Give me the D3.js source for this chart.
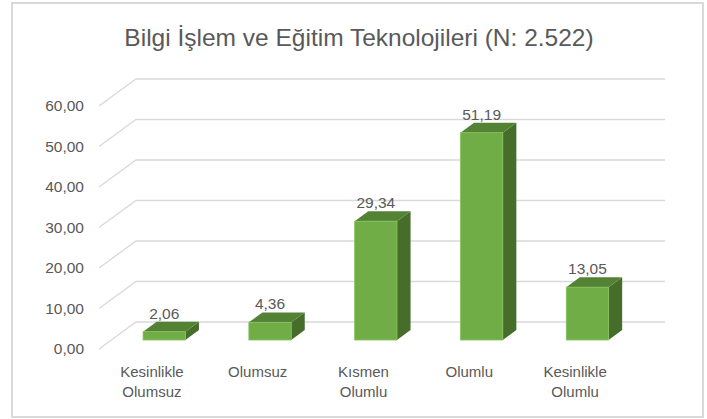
<!DOCTYPE html>
<html>
<head>
<meta charset="utf-8">
<script src="https://cdn.jsdelivr.net/npm/d3@7"></script>
<style>
  body { margin: 0; background: #fff; }
  text { font-family: "Liberation Sans", Arial, sans-serif; fill: #595959; }
</style>
</head>
<body>
<div id="chart"></div>
<script>
// Plot constants
const WIDTH = 707;
const HEIGHT = 419;

// Data
const categories = [["Kesinlikle", "Olumsuz"], ["Olumsuz"], ["Kısmen", "Olumlu"], ["Olumlu"], ["Kesinlikle", "Olumlu"]];
const values = [2.06, 4.36, 29.34, 51.19, 13.05];
const yTicks = [0, 10, 20, 30, 40, 50, 60];
const titleText = "Bilgi İşlem ve Eğitim Teknolojileri (N: 2.522)";

// 3D depth of the plot box (front plane -> back wall)
const DX = 37, DY = 27;
// bar sits between these depth fractions
const Z0 = 0.333, Z1 = 0.7;

const svg = d3.select("#chart").append("svg")
  .attr("width", WIDTH)
  .attr("height", HEIGHT);

// Outer border
svg.append("rect")
  .attr("x", 12).attr("y", 3)
  .attr("width", 691).attr("height", 414)
  .attr("fill", "#fff")
  .attr("stroke", "#d9d9d9")
  .attr("stroke-width", 2);

// Title
svg.append("text")
  .attr("x", 359)
  .attr("y", 46)
  .attr("text-anchor", "middle")
  .attr("font-size", "24.5px")
  .text(titleText);

// Scales (front plane)
const x = d3.scaleBand()
  .domain(d3.range(values.length))
  .range([99, 628])
  .paddingInner(0.6)
  .paddingOuter(0.3);

const y = d3.scaleLinear().domain([0, 60]).range([349, 106]);

// project a point at depth z (0 front, 1 back)
const px = (xv, z) => xv + z * DX;
const py = (yv, z) => yv - z * DY;

// Gridlines: back wall + left side diagonal
const grid = svg.append("g").attr("stroke", "#d9d9d9").attr("stroke-width", 1.3).attr("fill", "none");
yTicks.forEach(t => {
  grid.append("path")
    .attr("d", `M${px(99, 0)},${py(y(t), 0)} L${px(99, 1)},${py(y(t), 1)} L${px(628, 1)},${py(y(t), 1)}`);
});

// Y axis labels
svg.append("g").selectAll("text")
  .data(yTicks)
  .join("text")
  .attr("x", 84)
  .attr("y", d => y(d) + 5)
  .attr("text-anchor", "end")
  .attr("font-size", "15.5px")
  .text(d => d3.format(".2f")(d).replace(".", ","));

// Bars
const bars = svg.append("g").selectAll("g")
  .data(values)
  .join("g");

bars.each(function (d, i) {
  const g = d3.select(this);
  const x0 = x(i), x1 = x(i) + x.bandwidth();
  const yb = y(0), yt = y(d);
  // side face
  g.append("path")
    .attr("d", `M${px(x1, Z0)},${py(yt, Z0)} L${px(x1, Z1)},${py(yt, Z1)} L${px(x1, Z1)},${py(yb, Z1)} L${px(x1, Z0)},${py(yb, Z0)}Z`)
    .attr("fill", "#476d2b");
  // top face
  g.append("path")
    .attr("d", `M${px(x0, Z0)},${py(yt, Z0)} L${px(x0, Z1)},${py(yt, Z1)} L${px(x1, Z1)},${py(yt, Z1)} L${px(x1, Z0)},${py(yt, Z0)}Z`)
    .attr("fill", "#548235");
  // front face
  g.append("rect")
    .attr("x", px(x0, Z0))
    .attr("y", py(yt, Z0))
    .attr("width", x.bandwidth())
    .attr("height", yb - yt)
    .attr("fill", "#70ad47")
    .attr("stroke", "#86c25e")
    .attr("stroke-width", 0.8);
  // value label
  g.append("text")
    .attr("x", px(x0 + x.bandwidth() / 2, Z0))
    .attr("y", py(yt, Z1) - 3)
    .attr("text-anchor", "middle")
    .attr("font-size", "15.5px")
    .text(d3.format(".2f")(d).replace(".", ","));
});

// Category labels (front plane)
svg.append("g").selectAll("text")
  .data(categories)
  .join("text")
  .attr("x", (d, i) => x(i) + x.bandwidth() / 2)
  .attr("y", 377)
  .attr("text-anchor", "middle")
  .attr("font-size", "15px")
  .selectAll("tspan")
  .data(d => d)
  .join("tspan")
  .attr("x", function () { return d3.select(this.parentNode).attr("x"); })
  .attr("dy", (d, j) => j === 0 ? 0 : 20)
  .text(d => d);
</script>
</body>
</html>
